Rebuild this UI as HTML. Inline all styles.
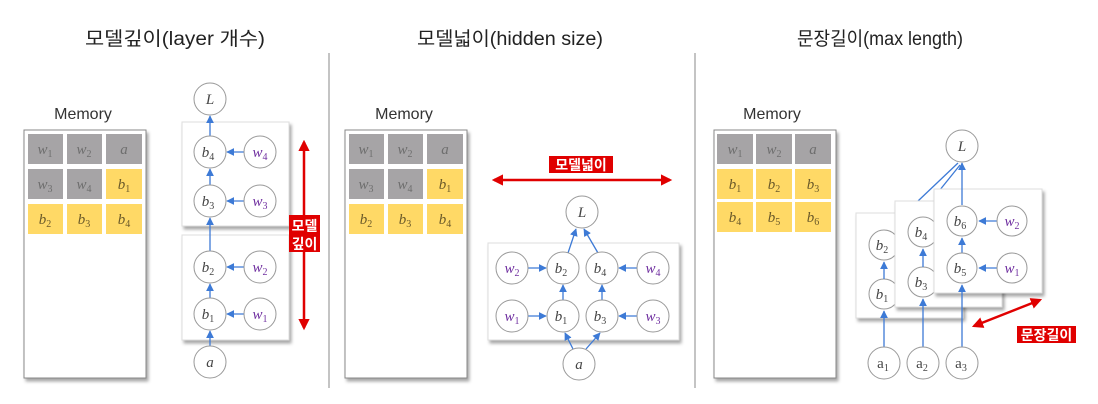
<!DOCTYPE html>
<html><head><meta charset="utf-8">
<style>
html,body{margin:0;padding:0;background:#fff;}
svg{display:block;}
.t{font-family:"Liberation Sans","Noto Sans CJK KR",sans-serif;fill:#222;}
.m{font-family:"Liberation Sans",sans-serif;fill:#333;font-size:16px;}
.v{font-family:"Liberation Serif",serif;font-style:italic;font-size:15px;text-anchor:middle;}
.v tspan{font-style:normal;}
.g{fill:#6e6e6e;} .y{fill:#6b5a2a;} .k{fill:#444;} .p{fill:#7030a0;}
.lab{font-family:"Noto Sans CJK KR",sans-serif;font-weight:bold;fill:#fff;font-size:14px;}
</style></head><body>
<svg width="1098" height="404" viewBox="0 0 1098 404" xmlns="http://www.w3.org/2000/svg">
<defs>
<marker id="ab" viewBox="0 0 10 10" refX="9" refY="5" markerWidth="6" markerHeight="6" orient="auto"><path d="M0,0L10,5L0,10z" fill="#3d7ad6"/></marker>
<marker id="ar" viewBox="0 0 10 10" refX="8" refY="5" markerWidth="4.5" markerHeight="4.5" orient="auto-start-reverse"><path d="M0,0L10,5L0,10z" fill="#e00000"/></marker>
<filter id="sh" x="-10%" y="-10%" width="130%" height="130%"><feDropShadow dx="2" dy="3" stdDeviation="1.5" flood-color="#000" flood-opacity="0.35"/></filter>
</defs>

<text class="t" x="175" y="45" font-size="19" text-anchor="middle" textLength="180" lengthAdjust="spacingAndGlyphs">모델깊이(layer 개수)</text>
<text class="t" x="510" y="45" font-size="19" text-anchor="middle" textLength="186" lengthAdjust="spacingAndGlyphs">모델넓이(hidden size)</text>
<text class="t" x="880" y="45" font-size="19" text-anchor="middle" textLength="166" lengthAdjust="spacingAndGlyphs">문장길이(max length)</text>

<rect x="328" y="53" width="2" height="335" fill="#c4c4c4"/>
<rect x="694" y="53" width="2" height="335" fill="#c4c4c4"/>

<text class="m" x="83" y="119" text-anchor="middle">Memory</text>
<text class="m" x="404" y="119" text-anchor="middle">Memory</text>
<text class="m" x="772" y="119" text-anchor="middle">Memory</text>

<g filter="url(#sh)">
<rect x="24" y="130" width="122" height="248" fill="#fff" stroke="#888" stroke-width="1"/>
<rect x="345" y="130" width="122" height="248" fill="#fff" stroke="#888" stroke-width="1"/>
<rect x="714" y="130" width="122" height="248" fill="#fff" stroke="#888" stroke-width="1"/>
</g>

<g>
<rect x="28" y="134" width="35" height="30" fill="#a6a4a6"/><rect x="67" y="134" width="35" height="30" fill="#a6a4a6"/><rect x="106" y="134" width="36" height="30" fill="#a6a4a6"/>
<rect x="28" y="169" width="35" height="30" fill="#a6a4a6"/><rect x="67" y="169" width="35" height="30" fill="#a6a4a6"/><rect x="106" y="169" width="36" height="30" fill="#ffd966"/>
<rect x="28" y="204" width="35" height="30" fill="#ffd966"/><rect x="67" y="204" width="35" height="30" fill="#ffd966"/><rect x="106" y="204" width="36" height="30" fill="#ffd966"/>
<text class="v g" x="45" y="154">w<tspan font-size="10" dy="3">1</tspan></text>
<text class="v g" x="84" y="154">w<tspan font-size="10" dy="3">2</tspan></text>
<text class="v g" x="124" y="154">a</text>
<text class="v g" x="45" y="189">w<tspan font-size="10" dy="3">3</tspan></text>
<text class="v g" x="84" y="189">w<tspan font-size="10" dy="3">4</tspan></text>
<text class="v y" x="124" y="189">b<tspan font-size="10" dy="3">1</tspan></text>
<text class="v y" x="45" y="224">b<tspan font-size="10" dy="3">2</tspan></text>
<text class="v y" x="84" y="224">b<tspan font-size="10" dy="3">3</tspan></text>
<text class="v y" x="124" y="224">b<tspan font-size="10" dy="3">4</tspan></text>
</g>
<g>
<rect x="349" y="134" width="35" height="30" fill="#a6a4a6"/><rect x="388" y="134" width="35" height="30" fill="#a6a4a6"/><rect x="427" y="134" width="36" height="30" fill="#a6a4a6"/>
<rect x="349" y="169" width="35" height="30" fill="#a6a4a6"/><rect x="388" y="169" width="35" height="30" fill="#a6a4a6"/><rect x="427" y="169" width="36" height="30" fill="#ffd966"/>
<rect x="349" y="204" width="35" height="30" fill="#ffd966"/><rect x="388" y="204" width="35" height="30" fill="#ffd966"/><rect x="427" y="204" width="36" height="30" fill="#ffd966"/>
<text class="v g" x="366" y="154">w<tspan font-size="10" dy="3">1</tspan></text>
<text class="v g" x="405" y="154">w<tspan font-size="10" dy="3">2</tspan></text>
<text class="v g" x="445" y="154">a</text>
<text class="v g" x="366" y="189">w<tspan font-size="10" dy="3">3</tspan></text>
<text class="v g" x="405" y="189">w<tspan font-size="10" dy="3">4</tspan></text>
<text class="v y" x="445" y="189">b<tspan font-size="10" dy="3">1</tspan></text>
<text class="v y" x="366" y="224">b<tspan font-size="10" dy="3">2</tspan></text>
<text class="v y" x="405" y="224">b<tspan font-size="10" dy="3">3</tspan></text>
<text class="v y" x="445" y="224">b<tspan font-size="10" dy="3">4</tspan></text>
</g>
<g>
<rect x="717" y="134" width="36" height="30" fill="#a6a4a6"/><rect x="756" y="134" width="36" height="30" fill="#a6a4a6"/><rect x="795" y="134" width="36" height="30" fill="#a6a4a6"/>
<rect x="717" y="169" width="36" height="30" fill="#ffd966"/><rect x="756" y="169" width="36" height="30" fill="#ffd966"/><rect x="795" y="169" width="36" height="30" fill="#ffd966"/>
<rect x="717" y="202" width="36" height="30" fill="#ffd966"/><rect x="756" y="202" width="36" height="30" fill="#ffd966"/><rect x="795" y="202" width="36" height="30" fill="#ffd966"/>
<text class="v g" x="735" y="154">w<tspan font-size="10" dy="3">1</tspan></text>
<text class="v g" x="774" y="154">w<tspan font-size="10" dy="3">2</tspan></text>
<text class="v g" x="813" y="154">a</text>
<text class="v y" x="735" y="189">b<tspan font-size="10" dy="3">1</tspan></text>
<text class="v y" x="774" y="189">b<tspan font-size="10" dy="3">2</tspan></text>
<text class="v y" x="813" y="189">b<tspan font-size="10" dy="3">3</tspan></text>
<text class="v y" x="735" y="222">b<tspan font-size="10" dy="3">4</tspan></text>
<text class="v y" x="774" y="222">b<tspan font-size="10" dy="3">5</tspan></text>
<text class="v y" x="813" y="222">b<tspan font-size="10" dy="3">6</tspan></text>
</g>

<g filter="url(#sh)">
<rect x="182" y="122" width="107" height="104" fill="#fff" stroke="#ddd"/>
<rect x="182" y="235" width="107" height="105" fill="#fff" stroke="#ddd"/>
</g>
<g stroke="#3d7ad6" stroke-width="1.3" fill="none" marker-end="url(#ab)">
<line x1="210" y1="136" x2="210" y2="116"/>
<line x1="210" y1="185" x2="210" y2="169"/>
<line x1="210" y1="251" x2="210" y2="218"/>
<line x1="210" y1="298" x2="210" y2="284"/>
<line x1="210" y1="346" x2="210" y2="331"/>
<line x1="244" y1="152" x2="227" y2="152"/>
<line x1="244" y1="201" x2="227" y2="201"/>
<line x1="244" y1="267" x2="227" y2="267"/>
<line x1="244" y1="314" x2="227" y2="314"/>
</g>
<g fill="#fff" stroke="#999" stroke-width="1">
<circle cx="210" cy="99" r="16"/><circle cx="210" cy="152" r="16"/><circle cx="260" cy="152" r="16"/>
<circle cx="210" cy="201" r="16"/><circle cx="260" cy="201" r="16"/>
<circle cx="210" cy="267" r="16"/><circle cx="260" cy="267" r="16"/>
<circle cx="210" cy="314" r="16"/><circle cx="260" cy="314" r="16"/>
<circle cx="210" cy="362" r="16"/>
</g>
<text class="v k" x="210" y="104">L</text>
<text class="v k" x="208" y="157">b<tspan font-size="10" dy="3">4</tspan></text>
<text class="v p" x="260" y="157">w<tspan font-size="10" dy="3">4</tspan></text>
<text class="v k" x="208" y="206">b<tspan font-size="10" dy="3">3</tspan></text>
<text class="v p" x="260" y="206">w<tspan font-size="10" dy="3">3</tspan></text>
<text class="v k" x="208" y="272">b<tspan font-size="10" dy="3">2</tspan></text>
<text class="v p" x="260" y="272">w<tspan font-size="10" dy="3">2</tspan></text>
<text class="v k" x="208" y="319">b<tspan font-size="10" dy="3">1</tspan></text>
<text class="v p" x="260" y="319">w<tspan font-size="10" dy="3">1</tspan></text>
<text class="v k" x="210" y="367">a</text>
<line x1="304" y1="142" x2="304" y2="328" stroke="#e00000" stroke-width="2.5" marker-start="url(#ar)" marker-end="url(#ar)"/>
<rect x="289" y="215" width="31" height="37" fill="#e00000"/>
<text class="lab" x="304.5" y="231" text-anchor="middle">모델</text>
<text class="lab" x="304.5" y="249" text-anchor="middle">깊이</text>

<line x1="494" y1="180" x2="670" y2="180" stroke="#e00000" stroke-width="2.5" marker-start="url(#ar)" marker-end="url(#ar)"/>
<rect x="549" y="156" width="64" height="17" fill="#e00000"/>
<text class="lab" x="581" y="170" text-anchor="middle">모델넓이</text>
<rect x="488" y="243" width="191" height="97" fill="#fff" stroke="#ddd" filter="url(#sh)"/>
<g stroke="#3d7ad6" stroke-width="1.3" fill="none" marker-end="url(#ab)">
<line x1="568" y1="253" x2="576" y2="229"/>
<line x1="598" y1="253" x2="584" y2="229"/>
<line x1="563" y1="300" x2="563" y2="285"/>
<line x1="602" y1="300" x2="602" y2="285"/>
<line x1="528" y1="268" x2="546" y2="268"/>
<line x1="528" y1="316" x2="546" y2="316"/>
<line x1="637" y1="268" x2="619" y2="268"/>
<line x1="637" y1="316" x2="619" y2="316"/>
<line x1="573" y1="349" x2="565" y2="333"/>
<line x1="586" y1="349" x2="600" y2="333"/>
</g>
<g fill="#fff" stroke="#999">
<circle cx="582" cy="212" r="16"/>
<circle cx="512" cy="268" r="16"/><circle cx="563" cy="268" r="16"/><circle cx="602" cy="268" r="16"/><circle cx="653" cy="268" r="16"/>
<circle cx="512" cy="316" r="16"/><circle cx="563" cy="316" r="16"/><circle cx="602" cy="316" r="16"/><circle cx="653" cy="316" r="16"/>
<circle cx="579" cy="364" r="16"/>
</g>
<text class="v k" x="582" y="217">L</text>
<text class="v p" x="512" y="273">w<tspan font-size="10" dy="3">2</tspan></text>
<text class="v k" x="561" y="273">b<tspan font-size="10" dy="3">2</tspan></text>
<text class="v k" x="600" y="273">b<tspan font-size="10" dy="3">4</tspan></text>
<text class="v p" x="653" y="273">w<tspan font-size="10" dy="3">4</tspan></text>
<text class="v p" x="512" y="321">w<tspan font-size="10" dy="3">1</tspan></text>
<text class="v k" x="561" y="321">b<tspan font-size="10" dy="3">1</tspan></text>
<text class="v k" x="600" y="321">b<tspan font-size="10" dy="3">3</tspan></text>
<text class="v p" x="653" y="321">w<tspan font-size="10" dy="3">3</tspan></text>
<text class="v k" x="579" y="369">a</text>

<g stroke="#3d7ad6" stroke-width="1.3" fill="none">
<line x1="918" y1="201" x2="958" y2="163"/>
<line x1="935" y1="196" x2="960" y2="165"/>
</g>
<rect x="856" y="213" width="107" height="105" fill="#fff" stroke="#ddd" filter="url(#sh)"/>
<g fill="#fff" stroke="#999"><circle cx="884" cy="245" r="15"/><circle cx="884" cy="294" r="15"/></g>
<g stroke="#3d7ad6" stroke-width="1.3" marker-end="url(#ab)"><line x1="884" y1="279" x2="884" y2="262"/></g>
<text class="v k" x="882" y="250">b<tspan font-size="10" dy="3">2</tspan></text>
<text class="v k" x="882" y="299">b<tspan font-size="10" dy="3">1</tspan></text>
<rect x="895" y="201" width="107" height="106" fill="#fff" stroke="#ddd" filter="url(#sh)"/>
<g fill="#fff" stroke="#999"><circle cx="923" cy="232" r="15"/><circle cx="923" cy="282" r="15"/></g>
<g stroke="#3d7ad6" stroke-width="1.3" marker-end="url(#ab)"><line x1="923" y1="267" x2="923" y2="249"/></g>
<text class="v k" x="921" y="237">b<tspan font-size="10" dy="3">4</tspan></text>
<text class="v k" x="921" y="287">b<tspan font-size="10" dy="3">3</tspan></text>
<rect x="934" y="189" width="108" height="104" fill="#fff" stroke="#ddd" filter="url(#sh)"/>
<g stroke="#3d7ad6" stroke-width="1.3" fill="none" marker-end="url(#ab)">
<line x1="962" y1="205" x2="962" y2="163"/>
<line x1="962" y1="253" x2="962" y2="238"/>
<line x1="997" y1="221" x2="979" y2="221"/>
<line x1="997" y1="268" x2="979" y2="268"/>
<line x1="884" y1="347" x2="884" y2="311"/>
<line x1="923" y1="347" x2="923" y2="299"/>
<line x1="962" y1="347" x2="962" y2="285"/>
</g>
<g fill="#fff" stroke="#999">
<circle cx="962" cy="146" r="16"/>
<circle cx="962" cy="221" r="15"/><circle cx="1012" cy="221" r="15"/>
<circle cx="962" cy="268" r="15"/><circle cx="1012" cy="268" r="15"/>
<circle cx="884" cy="363" r="16"/><circle cx="923" cy="363" r="16"/><circle cx="962" cy="363" r="16"/>
</g>
<text class="v k" x="962" y="151">L</text>
<text class="v k" x="960" y="226">b<tspan font-size="10" dy="3">6</tspan></text>
<text class="v p" x="1012" y="226">w<tspan font-size="10" dy="3">2</tspan></text>
<text class="v k" x="960" y="273">b<tspan font-size="10" dy="3">5</tspan></text>
<text class="v p" x="1012" y="273">w<tspan font-size="10" dy="3">1</tspan></text>
<g font-family="Liberation Serif,serif" font-size="15" fill="#444" text-anchor="middle">
<text x="883" y="368">a<tspan font-size="10" dy="3">1</tspan></text>
<text x="922" y="368">a<tspan font-size="10" dy="3">2</tspan></text>
<text x="961" y="368">a<tspan font-size="10" dy="3">3</tspan></text>
</g>
<line x1="974" y1="326" x2="1040" y2="300" stroke="#e00000" stroke-width="2.5" marker-start="url(#ar)" marker-end="url(#ar)"/>
<rect x="1017" y="326" width="59" height="17" fill="#e00000"/>
<text class="lab" x="1046.5" y="340" text-anchor="middle" font-size="13">문장길이</text>
</svg>
</body></html>
